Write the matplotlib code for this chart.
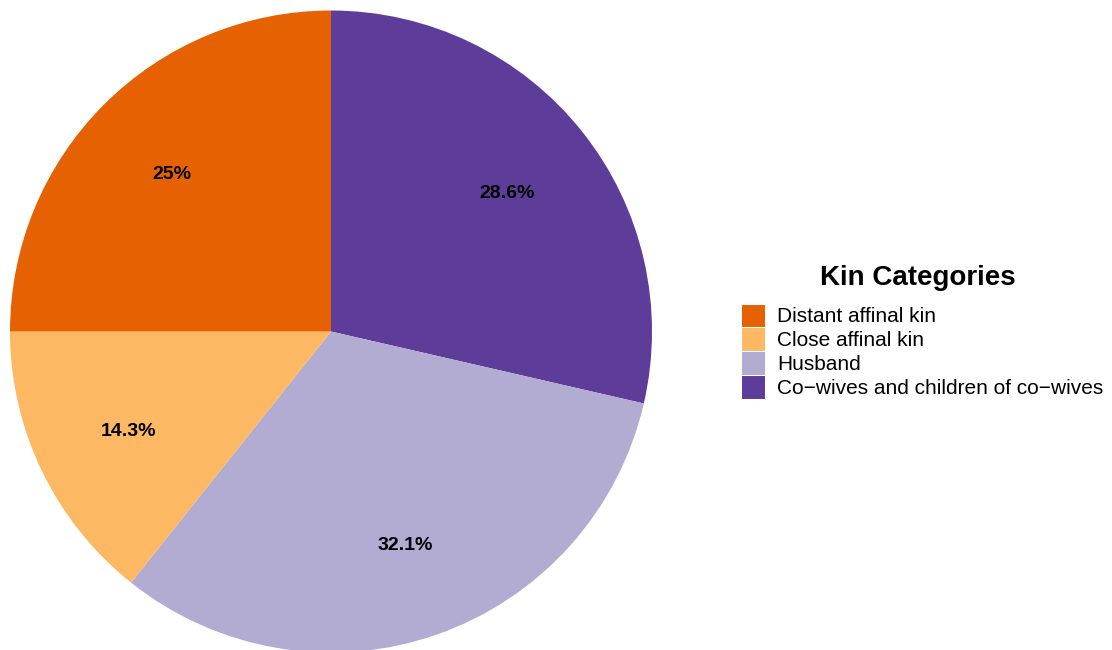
import matplotlib
matplotlib.use("Agg")
import matplotlib.pyplot as plt
from matplotlib.patches import Patch
import numpy as np

plt.rcParams['font.family'] = ['Liberation Sans', 'DejaVu Sans']

# slices in clockwise order starting at 12 o'clock
categories = ["Co\u2212wives and children of co\u2212wives", "Husband",
              "Close affinal kin", "Distant affinal kin"]
percentages = [28.6, 32.1, 14.3, 25.0]
colors = ["#5E3C99", "#B2ABD2", "#FDB863", "#E66101"]

# legend order as in the reference
legend_order = ["Distant affinal kin", "Close affinal kin", "Husband",
                "Co\u2212wives and children of co\u2212wives"]

W, H = 1112, 650
fig = plt.figure(figsize=(W / 100, H / 100), dpi=100)

cx, cy, r = 331, 650 - 331.5, 321
ax = fig.add_axes([(cx - r) / W, (cy - r) / H, 2 * r / W, 2 * r / H])

wedges, texts = ax.pie(percentages, colors=colors, startangle=90,
                       counterclock=False, radius=1,
                       wedgeprops=dict(linewidth=0))
for w in wedges:
    w.set_clip_on(False)

# percentage labels placed at mid-angle, 0.70 of the radius
start = 90.0
for p in percentages:
    mid = np.deg2rad(start - p * 3.6 / 2)
    ax.text(0.70 * np.cos(mid), 0.70 * np.sin(mid), f"{p:g}%",
            ha="center", va="center_baseline", fontsize=14, fontweight="bold")
    start -= p * 3.6

ax.set_xlim(-1, 1)
ax.set_ylim(-1, 1)
ax.set_aspect("equal")
ax.axis("off")

color_of = dict(zip(categories, colors))
handles = [Patch(facecolor=color_of[c], edgecolor="white", linewidth=0.75, label=c)
           for c in legend_order]
fig.text(917.5 / W, 1 - 285 / H, "Kin Categories", ha="center", va="baseline",
         fontsize=20, fontweight="bold")
leg = fig.legend(handles=handles, loc="upper left",
                 bbox_to_anchor=(740.5 / W, 1 - 303.5 / H),
                 frameon=False, fontsize=15,
                 handlelength=1.152, handleheight=1.395,
                 handletextpad=0.62, labelspacing=0,
                 borderaxespad=0, borderpad=0)

fig.savefig("out.png", dpi=100)
